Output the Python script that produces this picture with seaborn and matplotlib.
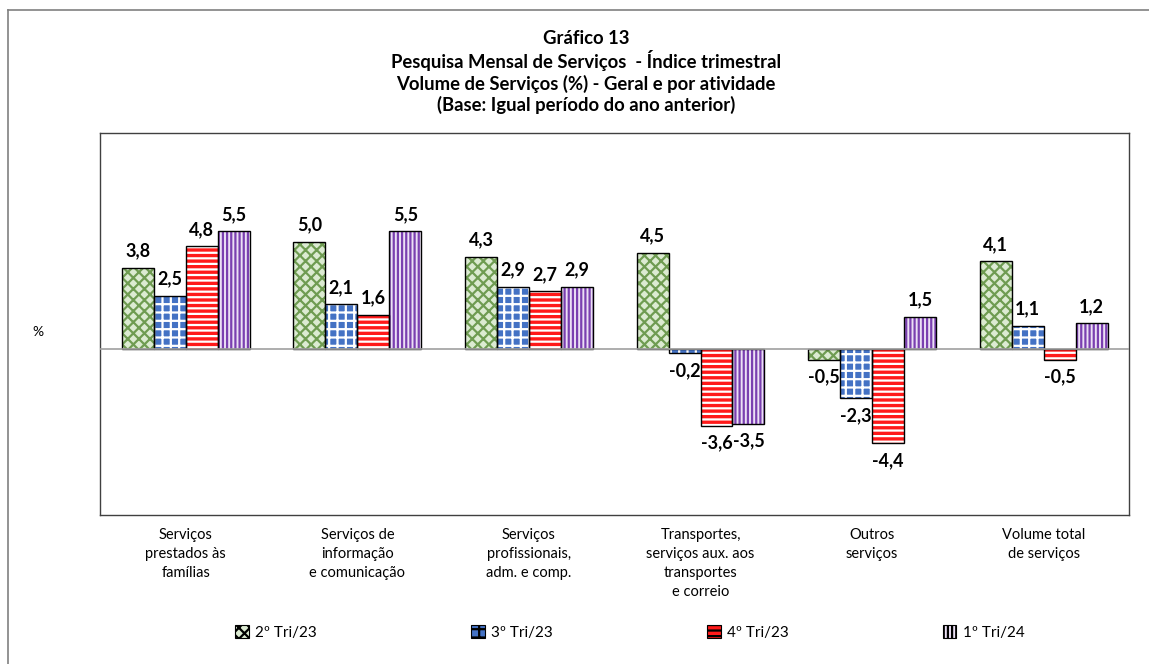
import pandas as pd
import matplotlib.pyplot as plt
import seaborn as sns
from matplotlib.patches import Rectangle, Patch

categorias = [
    "Serviços\nprestados às\nfamílias",
    "Serviços de\ninformação\ne comunicação",
    "Serviços\nprofissionais,\nadm. e comp.",
    "Transportes,\nserviços aux. aos\ntransportes\ne correio",
    "Outros\nserviços",
    "Volume total\nde serviços",
]
series = ["2º Tri/23", "3º Tri/23", "4º Tri/23", "1º Tri/24"]
tri2_23 = [3.8, 5.0, 4.3, 4.5, -0.5, 4.1]
tri3_23 = [2.5, 2.1, 2.9, -0.2, -2.3, 1.1]
tri4_23 = [4.8, 1.6, 2.7, -3.6, -4.4, -0.5]
tri1_24 = [5.5, 5.5, 2.9, -3.5, 1.5, 1.2]

# (face, hatch colour, hatch)
estilos = [
    ("#dcebd2", "#6f9c52", "xxx"),
    ("#4472c4", "#ffffff", "++"),
    ("#ff1a1a", "#ffffff", "---"),
    ("#ece0f5", "#7a3fb0", "||||"),
]

df = pd.DataFrame({
    "categoria": categorias * 4,
    "serie": sum([[s] * 6 for s in series], []),
    "valor": tri2_23 + tri3_23 + tri4_23 + tri1_24,
})

plt.rcParams["font.family"] = ["Lato", "DejaVu Sans"]
plt.rcParams["hatch.linewidth"] = 1.6

fig = plt.figure(figsize=(11.49, 6.64), dpi=100)
ax = fig.add_axes([0.087, 0.224, 0.896, 0.576])

sns.barplot(data=df, x="categoria", y="valor", hue="serie",
            palette=[e[0] for e in estilos], width=0.745, ax=ax,
            legend=False, errorbar=None)

for cont, (face, hcol, hatch) in zip(ax.containers, estilos):
    for bar in cont:
        bar.set_facecolor(face)
        bar.set_edgecolor(hcol)
        bar.set_hatch(hatch)
        bar.set_linewidth(0)
        ax.add_patch(Rectangle(bar.get_xy(), bar.get_width(), bar.get_height(),
                               fill=False, edgecolor="black", lw=1.0, zorder=3))
    ax.bar_label(cont, labels=[f"{v:.1f}".replace(".", ",") for v in cont.datavalues],
                 padding=6, fontsize=13, fontweight="bold")

ax.axhline(0, color="#a0a0a0", lw=1.2, zorder=4)
ax.set_ylim(-7.75, 10.1)
ax.set_xlim(-0.5, 5.5)
ax.set_yticks([])
ax.set_xlabel("")
ax.set_ylabel("")
ax.tick_params(axis="x", length=0, labelsize=10.5, pad=9)
for lbl in ax.get_xticklabels():
    lbl.set_linespacing(1.45)
for s in ax.spines.values():
    s.set_color("#404040")
    s.set_linewidth(1.0)

fig.text(0.033, 0.5, "%", fontsize=10, ha="center", va="center")

titulo = ("Gráfico 13\nPesquisa Mensal de Serviços  - Índice trimestral\n"
          "Volume de Serviços (%) - Geral e por atividade\n"
          "(Base: Igual período do ano anterior)")
fig.text(0.51, 0.955, titulo, ha="center", va="top", fontsize=13.3,
         fontweight="bold", linespacing=1.2)

handles = [Patch(facecolor=f, edgecolor="black", hatch=h, lw=0.8) for f, _, h in estilos]
fig.legend(handles, series, loc="center", bbox_to_anchor=(0.548, 0.047), ncol=4,
           frameon=False, fontsize=11, handlelength=0.9, handleheight=0.9,
           handletextpad=0.4, columnspacing=10.1)

# moldura externa (apenas topo e esquerda visíveis)
fig.add_artist(plt.Line2D([0.007, 0.007], [0.0, 0.985], color="#808080", lw=1.2,
                          transform=fig.transFigure))
fig.add_artist(plt.Line2D([0.007, 1.0], [0.985, 0.985], color="#808080", lw=1.2,
                          transform=fig.transFigure))

fig.savefig("out.png", dpi=100)
